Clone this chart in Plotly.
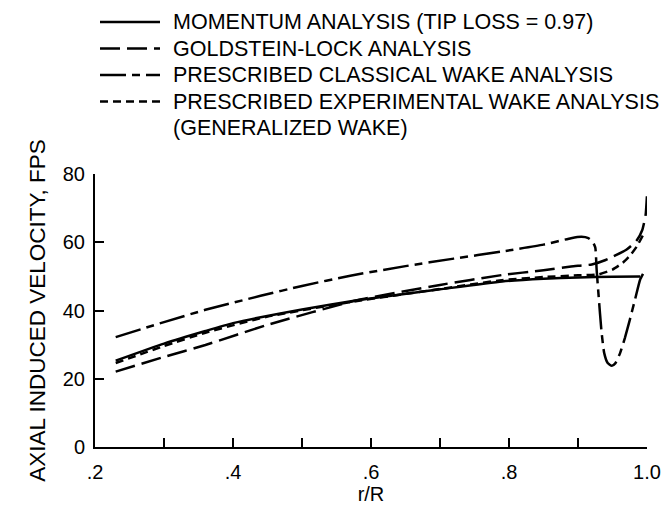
import plotly.graph_objects as go

# r/R stations and axial induced velocity (fps)
r_momentum = [0.23, 0.30, 0.36, 0.40, 0.50, 0.58, 0.70, 0.79, 0.85, 0.90, 0.95, 0.99]
v_momentum = [25.3, 30.3, 34.0, 36.3, 40.3, 43.0, 46.2, 48.5, 49.3, 49.7, 49.9, 50.0]

r_goldstein = [0.23, 0.30, 0.36, 0.45, 0.58, 0.70, 0.79, 0.85, 0.89, 0.92, 0.94,
               0.97, 0.985, 0.993, 0.998, 1.0]
v_goldstein = [22.1, 26.4, 29.9, 35.8, 43.0, 47.5, 50.4, 51.8, 52.9, 53.5, 54.8,
               57.8, 60.5, 63.5, 68.0, 74.0]

r_classical = [0.23, 0.30, 0.36, 0.44, 0.50, 0.57, 0.65, 0.72, 0.79, 0.85, 0.89,
               0.905, 0.915, 0.921, 0.925, 0.927, 0.930, 0.934, 0.938, 0.943,
               0.949, 0.954, 0.961, 0.968, 0.975, 0.983, 0.99, 0.995]
v_classical = [32.2, 36.6, 40.2, 44.3, 47.2, 50.2, 53.0, 55.2, 57.3, 59.3, 61.2,
               61.6, 61.2, 60.2, 58.5, 52.0, 44.0, 34.0, 27.5, 24.6,
               23.8, 24.5, 27.5, 32.0, 37.2, 43.5, 49.0, 51.0]

r_experimental = [0.23, 0.30, 0.36, 0.45, 0.58, 0.70, 0.79, 0.85, 0.90, 0.93,
                  0.95, 0.965, 0.975, 0.985, 0.994]
v_experimental = [24.6, 29.6, 33.5, 38.2, 42.8, 46.3, 48.9, 49.8, 50.3, 50.6,
                  52.0, 54.0, 56.0, 58.7, 62.0]

x_ticks = [0.2, 0.3, 0.4, 0.5, 0.6, 0.7, 0.8, 0.9, 1.0]
x_labels = [".2", "", ".4", "", ".6", "", ".8", "", "1.0"]
y_ticks = [0, 20, 40, 60, 80]

font_family = "Liberation Sans, Arial, sans-serif"

series = [
    ("MOMENTUM ANALYSIS (TIP LOSS = 0.97)", r_momentum, v_momentum, "solid"),
    ("GOLDSTEIN-LOCK ANALYSIS", r_goldstein, v_goldstein, "20px,7px"),
    ("PRESCRIBED CLASSICAL WAKE ANALYSIS", r_classical, v_classical, "26px,6px,8px,6px"),
    ("PRESCRIBED EXPERIMENTAL WAKE ANALYSIS", r_experimental, v_experimental, "8px,5px"),
]

# the page body keeps its default 8px margin, so the figure is 8px smaller
# than the window and every pixel target below is shifted by that amount
PAGE_PAD = 8
W, H = 670 - PAGE_PAD, 507 - PAGE_PAD
L, T = 95 - PAGE_PAD, 174 - PAGE_PAD
R = W - (647 - PAGE_PAD)
B = H - (447 - PAGE_PAD)
plot_w = W - L - R
plot_h = H - T - B


def px_x(px):
    return (px - PAGE_PAD - L) / plot_w


def px_y(py):
    return (H - B - (py - PAGE_PAD)) / plot_h


fig = go.Figure()

# hand-drawn style key above the plot
shapes = []
annotations = []
row_y = [22, 48.5, 75, 101.5]
for (name, r, v, dash), y in zip(series, row_y):
    fig.add_trace(go.Scatter(
        x=r,
        y=v,
        name=name,
        mode="lines",
        line=dict(color="black", width=2.5, dash=dash, shape="spline", smoothing=0.5),
        cliponaxis=False,
        showlegend=False,
    ))
    shapes.append(dict(
        type="line", xref="paper", yref="paper",
        x0=px_x(100), x1=px_x(160), y0=px_y(y), y1=px_y(y),
        line=dict(color="black", width=2.5, dash=dash),
    ))
    annotations.append(dict(
        xref="paper", yref="paper", x=px_x(172), y=px_y(y),
        xanchor="left", yanchor="middle", showarrow=False, borderpad=0,
        text=name, font=dict(size=21.5, color="black"),
    ))

annotations.append(dict(
    xref="paper", yref="paper", x=px_x(172), y=px_y(128),
    xanchor="left", yanchor="middle", showarrow=False, borderpad=0,
    text="(GENERALIZED WAKE)", font=dict(size=21.5, color="black"),
))

fig.update_layout(
    width=W,
    height=H,
    margin=dict(l=L, r=R, t=T, b=B),
    plot_bgcolor="white",
    paper_bgcolor="white",
    font=dict(family=font_family, size=20, color="black"),
    showlegend=False,
    shapes=shapes,
    annotations=annotations,
    xaxis=dict(
        range=[0.2, 1.0],
        tickvals=x_ticks,
        ticktext=x_labels,
        ticks="inside",
        ticklen=9,
        tickwidth=2,
        tickcolor="black",
        showline=True,
        linewidth=2,
        linecolor="black",
        showgrid=False,
        zeroline=False,
        automargin=False,
        ticklabelstandoff=6,
        tickfont=dict(size=20),
        title=dict(text="r/R", font=dict(size=20), standoff=0),
    ),
    yaxis=dict(
        range=[0, 80],
        tickvals=y_ticks,
        ticks="inside",
        ticklen=9,
        tickwidth=2,
        tickcolor="black",
        showline=True,
        linewidth=2,
        linecolor="black",
        showgrid=False,
        zeroline=False,
        automargin=False,
        ticklabelstandoff=4,
        tickfont=dict(size=20),
        title=dict(text="AXIAL INDUCED VELOCITY, FPS", font=dict(size=22.5), standoff=11),
    ),
)

fig.write_html("out.html")
